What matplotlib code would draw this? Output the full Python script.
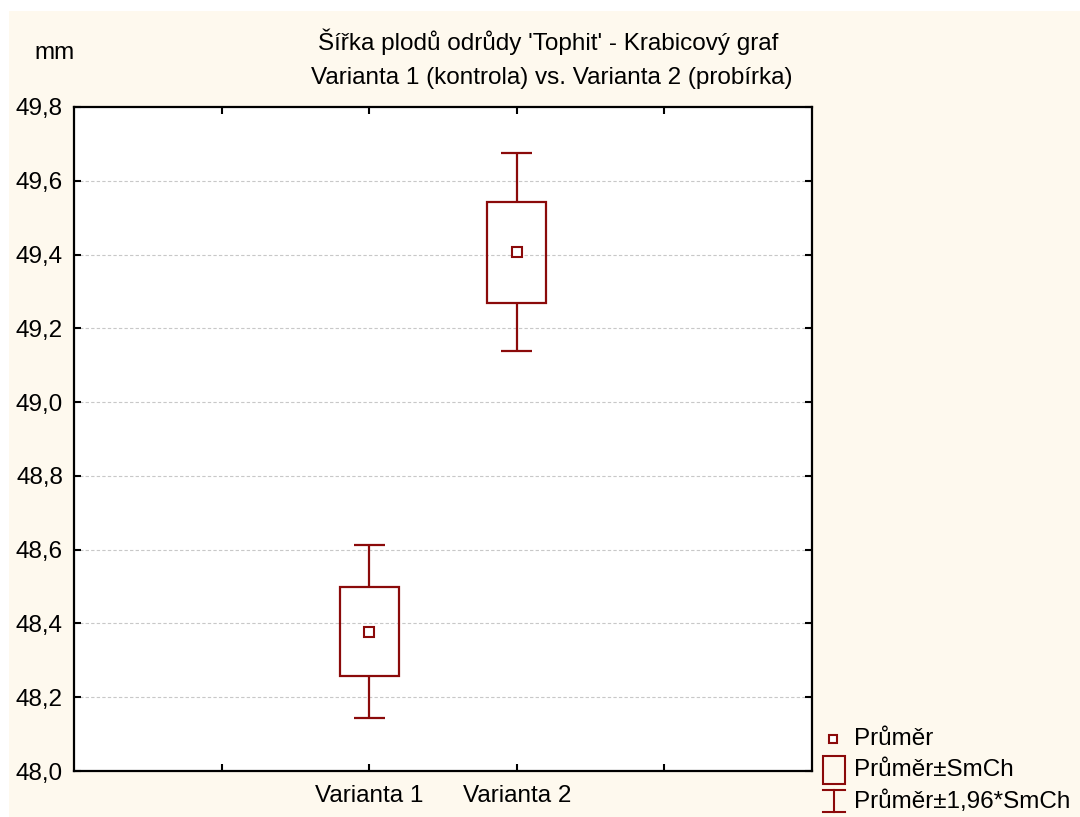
import matplotlib
matplotlib.use("Agg")
import matplotlib.pyplot as plt
from matplotlib.patches import Rectangle
from matplotlib.lines import Line2D
from matplotlib.ticker import FuncFormatter, FixedLocator

# ---- data ----
categories = ["Varianta 1", "Varianta 2"]
positions = [2, 3]
means = [48.378, 49.406]
se = [0.120, 0.137]
ci_factor = 1.96
yticks = [48.0, 48.2, 48.4, 48.6, 48.8, 49.0, 49.2, 49.4, 49.6, 49.8]

title1 = "Šířka plodů odrůdy 'Tophit' - Krabicový graf"
title2 = "Varianta 1 (kontrola) vs. Varianta 2 (probírka)"
ylabel = "mm"
legend_labels = ["Průměr", "Průměr±SmCh", "Průměr±1,96*SmCh"]

# ---- style ----
W, H = 1080, 817
RED = "#8B0A0A"
CREAM = "#FEF9EE"
FONT = "Liberation Sans"
FS = 17.5
plt.rcParams["font.family"] = [FONT, "DejaVu Sans"]

def fx(px):
    return px / W

def fy(py):
    return 1 - py / H

fig = plt.figure(figsize=(W / 100, H / 100), dpi=100)
fig.patch.set_facecolor("white")
fig.add_artist(Rectangle((fx(9), 0), 1 - fx(9), fy(11), transform=fig.transFigure,
                         facecolor=CREAM, edgecolor="none", zorder=-10))

ax = fig.add_axes([fx(74), fy(771), fx(812) - fx(74), fy(107) - fy(771)])
ax.set_facecolor("white")
ax.set_xlim(0, 5)
ax.set_ylim(48.0, 49.8)

box_w = 0.4
cap_w = 0.21
lw = 1.6
for p, m, s in zip(positions, means, se):
    ax.add_patch(Rectangle((p - box_w / 2, m - s), box_w, 2 * s, facecolor="none",
                           edgecolor=RED, linewidth=lw, zorder=3))
    lo, hi = m - ci_factor * s, m + ci_factor * s
    ax.vlines(p, m + s, hi, color=RED, linewidth=lw, zorder=3)
    ax.vlines(p, lo, m - s, color=RED, linewidth=lw, zorder=3)
    ax.hlines([lo, hi], p - cap_w / 2, p + cap_w / 2, color=RED, linewidth=lw, zorder=3)
    ax.plot([p], [m], marker="s", markersize=6.5, markerfacecolor="white",
            markeredgecolor=RED, markeredgewidth=1.5, linestyle="none", zorder=4)

# grid
for yv in yticks[1:-1]:
    ax.axhline(yv, color="#c8c8c8", linewidth=0.8, linestyle=(0, (3, 2)), zorder=1)

ax.yaxis.set_major_locator(FixedLocator(yticks))
ax.yaxis.set_major_formatter(FuncFormatter(lambda v, _: f"{v:.1f}".replace(".", ",")))
ax.xaxis.set_major_locator(FixedLocator([1, 2, 3, 4]))
ax.set_xticklabels(["", categories[0], categories[1], ""])

ax.tick_params(axis="both", direction="in", length=5, width=1.5, labelsize=FS,
               top=True, right=True, colors="black")
ax.tick_params(axis="y", pad=8)
ax.tick_params(axis="x", pad=10)
for sp in ax.spines.values():
    sp.set_linewidth(1.6)
    sp.set_color("black")

# titles
fig.text(fx(548), fy(42), title1, ha="center", va="center", fontsize=FS)
fig.text(fx(552), fy(78), title2, ha="center", va="center", fontsize=FS)
fig.text(fx(34), fy(53), ylabel, ha="left", va="center", fontsize=FS)

# legend (manual)
fig.add_artist(Line2D([fx(833)], [fy(739)], marker="s", markersize=6, markerfacecolor="white",
                      markeredgecolor=RED, markeredgewidth=1.5, linestyle="none",
                      transform=fig.transFigure))
fig.add_artist(Rectangle((fx(823), fy(784)), fx(845) - fx(823), fy(756) - fy(784),
                         transform=fig.transFigure, facecolor="none", edgecolor=RED, linewidth=1.5))
fig.add_artist(Line2D([fx(834), fx(834)], [fy(790), fy(812)], color=RED, linewidth=1.5,
                      transform=fig.transFigure))
fig.add_artist(Line2D([fx(823), fx(845)], [fy(790), fy(790)], color=RED, linewidth=1.5,
                      transform=fig.transFigure))
fig.add_artist(Line2D([fx(823), fx(845)], [fy(812), fy(812)], color=RED, linewidth=1.5,
                      transform=fig.transFigure))
for lab, yy in zip(legend_labels, [739, 770, 802]):
    fig.text(fx(854), fy(yy), lab, ha="left", va="center", fontsize=FS)

fig.savefig("out.png", dpi=100, facecolor=fig.get_facecolor())
